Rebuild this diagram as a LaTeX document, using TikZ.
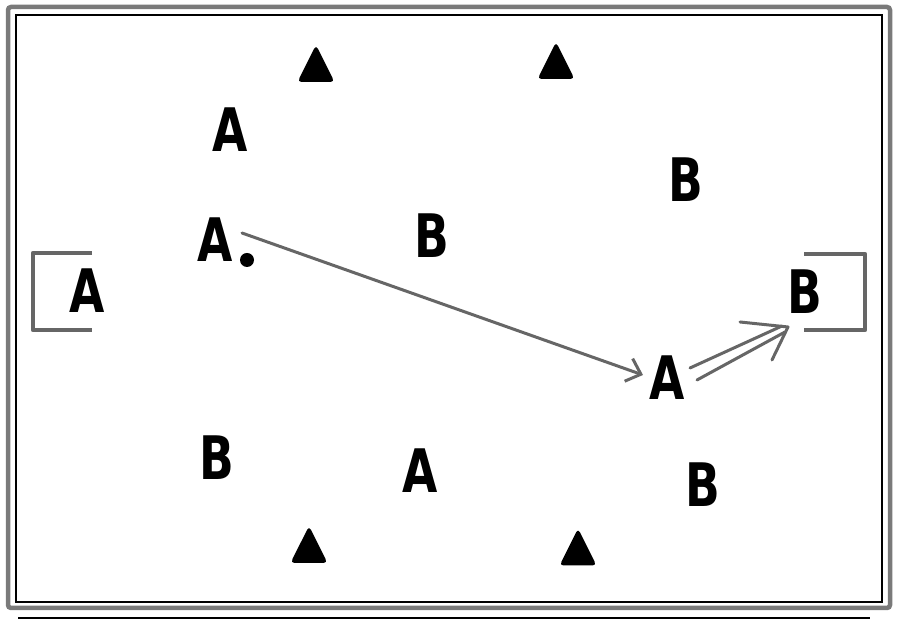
\documentclass[tikz,border=0pt]{standalone}
\usepackage{fontspec}
\setmainfont{DejaVu Sans}
\usetikzlibrary{arrows.meta}
\definecolor{linegray}{HTML}{666666}
\definecolor{framegray}{HTML}{7A7A7A}
\tikzset{
  player/.style={inner sep=0pt, outer sep=0pt, xscale=0.76, font=\fontsize{60}{60}\selectfont\bfseries},
  ball/.style={circle, fill=black, inner sep=0pt, minimum size=14pt},
  passline/.style={draw=linegray, line width=3pt, line cap=round},
  goalline/.style={draw=linegray, line width=4.5pt, line join=round},
  cone/.pic={\fill[rounded corners=4pt] (-18.5,-18.5) -- (0,18.5) -- (18.5,-18.5) -- cycle;}
}
\begin{document}
\begin{tikzpicture}[x=1pt,y=1pt]
\useasboundingbox (0,0) rectangle (900,620);
% frame
\draw[draw=framegray, line width=4.5pt, rounded corners=3pt] (8,12) rectangle (890,613);
\draw[line width=2pt] (16,18) rectangle (882,605);
\draw[line width=1.5pt] (18,2) -- (870,2);
% cones
\pic at (316,556.5) {cone};
\pic at (556,559.5) {cone};
\pic at (309,75.5) {cone};
\pic at (578,73) {cone};
% goals
\draw[goalline] (92,367) -- (33,367) -- (33,290) -- (92,290);
\draw[goalline] (804,366) -- (865,366) -- (865,290) -- (804,290);
% players
\node[player] (a1) at (230,490) {A};
\node[player] (a2) at (215,380) {A};
\node[ball] (b0) at (247,360) {};
\node[player] (ag) at (87,329) {A};
\node[player] (b1) at (432,384) {B};
\node[player] (b2) at (686,440) {B};
\node[player] (bg) at (805,328) {B};
\node[player] (a3) at (667,242) {A};
\node[player] (b3) at (217,162) {B};
\node[player] (a4) at (420,149) {A};
\node[player] (b4) at (703,135) {B};
% pass arrow
\coordinate (p1s) at (242,387);
\coordinate (p1e) at (643,245);
\draw[passline, -{Straight Barb[length=13pt,width=24pt,line width=3pt]}] (p1s) -- (p1e);
% run arrow (double)
\coordinate (u1) at (690,252);
\coordinate (u2) at (782,294);
\coordinate (l1) at (697,240);
\coordinate (l2) at (785,288);
\coordinate (tip) at (788,293);
\coordinate (w1) at (740,298);
\coordinate (w2) at (772,260);
\draw[passline] (u1) -- (u2);
\draw[passline] (l1) -- (l2);
\draw[passline, line join=round] (w1) -- (tip) -- (w2);
\end{tikzpicture}
\end{document}
